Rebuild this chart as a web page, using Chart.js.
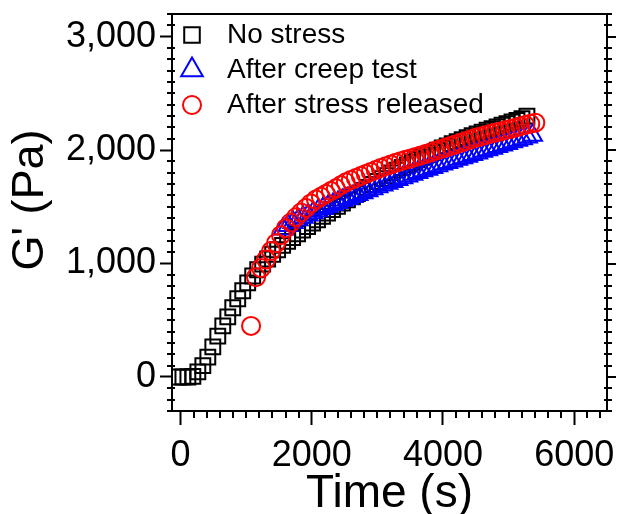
<!DOCTYPE html>
<html><head><meta charset="utf-8">
<script src="https://cdn.jsdelivr.net/npm/chart.js@4/dist/chart.umd.min.js"></script>
<style>html,body{margin:0;padding:0;background:#fff}canvas{display:block}</style>
</head><body>
<canvas id="c" width="621" height="514"></canvas>
<script>
// ---- data ----
const seriesNames = ["No stress", "After creep test", "After stress released"];

const noStressTime = [-40,36,112,188,264,340,416,492,568,644,720,796,872,948,1024,1100,1176,1252,1328,1404,1480,1556,1632,1708,1784,1860,1936,2012,2088,2164,2240,2316,2392,2468,2544,2620,2696,2772,2848,2924,3000,3076,3152,3228,3304,3380,3456,3532,3608,3684,3760,3836,3912,3988,4064,4140,4216,4292,4368,4444,4520,4596,4672,4748,4824,4900,4976,5052,5128,5204,5280];
const noStressG = [0,0,0,5,45,100,175,265,360,450,530,610,690,760,830,890,945,995,1040,1082,1122,1160,1196,1230,1263,1295,1326,1356,1386,1416,1446,1475,1504,1533,1561,1589,1617,1644,1671,1697,1723,1749,1774,1799,1823,1847,1870,1893,1915,1937,1958,1979,1999,2019,2038,2057,2075,2093,2110,2127,2143,2159,2175,2190,2205,2220,2234,2248,2262,2278,2300];

const creepTime = [1564,1640,1716,1792,1868,1944,2020,2096,2172,2248,2324,2400,2476,2552,2628,2704,2780,2856,2932,3008,3084,3160,3236,3312,3388,3464,3540,3616,3692,3768,3844,3920,3996,4072,4148,4224,4300,4376,4452,4528,4604,4680,4756,4832,4908,4984,5060,5136,5212,5288,5364];
const creepG = [1305,1335,1362,1386,1408,1428,1447,1466,1485,1503,1521,1539,1557,1574,1591,1608,1625,1642,1659,1676,1692,1708,1724,1740,1756,1772,1787,1802,1817,1832,1847,1862,1877,1891,1905,1919,1933,1947,1961,1975,1989,2003,2017,2031,2045,2059,2073,2087,2101,2115,2130];

const releasedTime = [1075,1151,1227,1303,1379,1455,1531,1607,1683,1759,1835,1911,1987,2063,2139,2215,2291,2367,2443,2519,2595,2671,2747,2823,2899,2975,3051,3127,3203,3279,3355,3431,3507,3583,3659,3735,3811,3887,3963,4039,4115,4191,4267,4343,4419,4495,4571,4647,4723,4799,4875,4951,5027,5103,5179,5255,5331,5407];
const releasedG = [450,880,960,1035,1110,1180,1250,1312,1362,1408,1450,1490,1530,1564,1589,1614,1639,1663,1690,1716,1736,1754,1772,1790,1808,1825,1843,1858,1873,1888,1902,1915,1927,1940,1953,1966,1980,1995,2008,2022,2036,2050,2064,2078,2094,2108,2120,2132,2144,2155,2165,2176,2187,2198,2210,2221,2232,2242];

const xTickValues = [0, 2000, 4000, 6000];
const yTickValues = [0, 1000, 2000, 3000];
const xTitle = "Time (s)";
const yTitle = "G' (Pa)";

// ---- chart ----
const FONT = "'Liberation Sans', Arial, sans-serif";
const toPts = (xs, ys) => xs.map((t, i) => ({x: t, y: ys[i]}));

const styles = [
  {color: '#000000', pointStyle: 'rect', radius: 10.5},
  {color: '#0000ff', pointStyle: 'triangle', radius: 11},
  {color: '#ff0000', pointStyle: 'circle', radius: 9}
];

const frameAndMinor = {
  id: 'frameAndMinor',
  afterDraw(chart) {
    const {ctx, chartArea: a, scales: {x, y}} = chart;
    ctx.save();
    ctx.strokeStyle = '#000';
    ctx.lineWidth = 2;
    ctx.beginPath();
    ctx.moveTo(a.left, a.top); ctx.lineTo(a.right, a.top); ctx.lineTo(a.right, a.bottom);
    ctx.stroke();
    ctx.beginPath();
    for (let v = -300; v <= 3200; v += 100) {
      const py = Math.round(y.getPixelForValue(v));
      if (v % 1000 === 0) {
        ctx.moveTo(a.right - 1, py); ctx.lineTo(a.right + 9, py);
      } else {
        ctx.moveTo(a.left - 5, py); ctx.lineTo(a.left + 3, py);
        ctx.moveTo(a.right - 3, py); ctx.lineTo(a.right + 5, py);
      }
    }
    for (let v = 0; v <= 6400; v += 200) {
      if (v % 2000 === 0) continue;
      const px = Math.round(x.getPixelForValue(v));
      ctx.moveTo(px, a.bottom); ctx.lineTo(px, a.bottom + 7);
    }
    ctx.stroke();
    ctx.restore();
  }
};

const legendPlugin = {
  id: 'insideLegend',
  afterDatasetsDraw(chart) {
    const {ctx, chartArea: a} = chart;
    ctx.save();
    seriesNames.forEach((name, i) => {
      const s = styles[i];
      const cx = a.left + 20, cy = a.top + 21 + i * 35;
      ctx.strokeStyle = s.color;
      ctx.fillStyle = 'rgba(0,0,0,0)';
      ctx.lineWidth = 2;
      Chart.helpers.drawPoint(ctx, {pointStyle: s.pointStyle, radius: s.pointStyle === 'triangle' ? 12.5 : (s.pointStyle === 'rect' ? 11 : 9), borderWidth: 2, rotation: 0}, cx, cy);
      ctx.fillStyle = '#000';
      ctx.font = "28px " + FONT;
      ctx.textBaseline = 'middle';
      ctx.textAlign = 'left';
      ctx.fillText(name, a.left + 55, cy);
    });
    ctx.restore();
  }
};

const datasets = [
  {label: seriesNames[0], data: toPts(noStressTime, noStressG), order: 3},
  {label: seriesNames[1], data: toPts(creepTime, creepG), order: 2},
  {label: seriesNames[2], data: toPts(releasedTime, releasedG), order: 1}
].map((d, i) => Object.assign(d, {
  showLine: false,
  pointStyle: styles[i].pointStyle,
  pointRadius: styles[i].radius,
  pointHoverRadius: styles[i].radius,
  pointBorderWidth: 2,
  pointBorderColor: styles[i].color,
  pointBackgroundColor: 'rgba(0,0,0,0)',
  borderColor: styles[i].color,
  backgroundColor: 'rgba(0,0,0,0)'
}));

new Chart(document.getElementById('c'), {
  type: 'scatter',
  data: {datasets},
  options: {
    responsive: false,
    animation: false,
    devicePixelRatio: 1,
    layout: {padding: {top: 14, right: 14, left: 0, bottom: 0}},
    plugins: {legend: {display: false}, tooltip: {enabled: false}},
    scales: {
      x: {
        type: 'linear', min: -130, max: 6500,
        afterFit: s => { s.height = 103; s.paddingLeft = 0; s.paddingRight = 0; },
        afterBuildTicks: s => { s.ticks = xTickValues.map(v => ({value: v})); },
        ticks: {color: '#000', font: {family: FONT, size: 36}, padding: 9, maxRotation: 0,
                callback: v => String(v)},
        grid: {drawOnChartArea: false, drawTicks: true, tickLength: 14, tickWidth: 2, tickColor: '#000'},
        border: {display: true, color: '#000', width: 2},
        title: {display: true, text: xTitle, color: '#000', font: {family: FONT, size: 46, lineHeight: 0.85}, padding: {top: 0, bottom: 0}}
      },
      y: {
        type: 'linear', min: -300, max: 3200,
        afterFit: s => { s.width = 172; s.paddingTop = 0; s.paddingBottom = 0; },
        afterBuildTicks: s => { s.ticks = yTickValues.map(v => ({value: v})); },
        ticks: {color: '#000', font: {family: FONT, size: 36}, padding: 4,
                callback: v => v.toLocaleString('en-US')},
        grid: {drawOnChartArea: false, drawTicks: true, tickLength: 12, tickWidth: 2, tickColor: '#000'},
        border: {display: true, color: '#000', width: 2},
        title: {display: true, text: "  " + yTitle, color: '#000', font: {family: FONT, size: 45}, padding: {top: 4, bottom: 0}}
      }
    }
  },
  plugins: [frameAndMinor, legendPlugin]
});
</script>
</body></html>
